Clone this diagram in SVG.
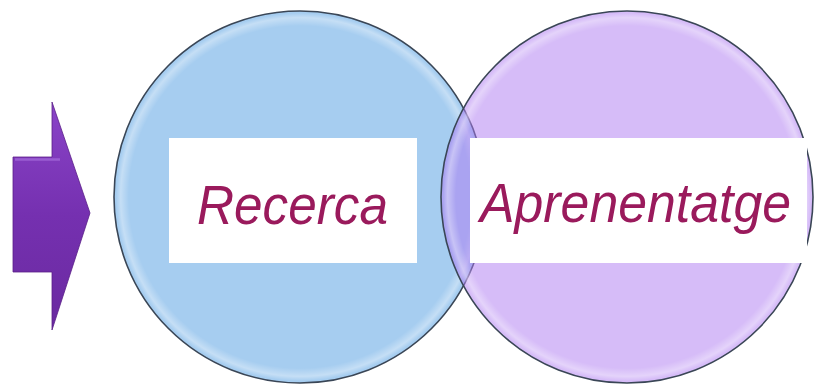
<svg xmlns="http://www.w3.org/2000/svg" width="818" height="385" viewBox="0 0 818 385">
<defs>
<style>
.ring{stroke:#3a4656;stroke-width:1.6}
.box{fill:#ffffff}
.lbl{font-family:"Liberation Sans","DejaVu Sans",sans-serif;font-style:italic;font-size:55px;fill:#9a1a5c}
</style>
<linearGradient id="arrowGrad" x1="0" y1="0" x2="0" y2="1">
<stop offset="0" stop-color="#8a44c8"/>
<stop offset="0.5" stop-color="#7530b0"/>
<stop offset="1" stop-color="#6a2aa0"/>
</linearGradient>
<radialGradient id="rim" cx="0.5" cy="0.5" r="0.5">
<stop offset="0.93" stop-color="#ffffff" stop-opacity="0"/>
<stop offset="0.975" stop-color="#ffffff" stop-opacity="0.35"/>
<stop offset="1" stop-color="#ffffff" stop-opacity="0"/>
</radialGradient>
</defs>
<rect width="818" height="385" fill="#ffffff"/>
<g id="arrow">
<polygon points="13,157 52,157 52,102 90,213 52,330 52,272 13,272" fill="url(#arrowGrad)" stroke="#5a2088" stroke-width="0.8"/>
<line x1="15" y1="159.5" x2="60" y2="159.5" stroke="#a066d8" stroke-width="2.5" stroke-opacity="0.8"/>
</g>
<g id="circle-recerca">
<circle cx="300" cy="197" r="186" fill="#a6cdf0" class="ring"/>
<circle cx="300" cy="197" r="184" fill="url(#rim)"/>
</g>
<g id="circle-aprenentatge">
<circle cx="627" cy="197" r="186" fill="#ad79f1" fill-opacity="0.5" class="ring"/>
<circle cx="627" cy="197" r="184" fill="url(#rim)"/>
</g>
<g id="label-recerca">
<rect class="box" x="169" y="138" width="248" height="125"/>
<text class="lbl" x="197" y="224" textLength="191" lengthAdjust="spacingAndGlyphs">Recerca</text>
</g>
<g id="label-aprenentatge">
<rect class="box" x="470" y="138" width="337" height="125"/>
<text class="lbl" x="480" y="222" textLength="311" lengthAdjust="spacingAndGlyphs">Aprenentatge</text>
</g>
<g id="connectors"></g>
</svg>
